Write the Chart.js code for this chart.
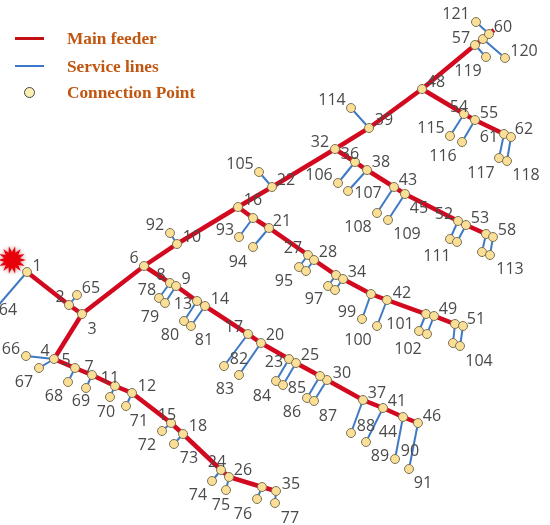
<!DOCTYPE html>
<html lang="en">
<head>
  <meta charset="UTF-8" />
  <title>Feeder network</title>
  <script src="https://cdn.jsdelivr.net/npm/chart.js"></script>
  <style>
    body { margin: 0; background: #fff; }
    #wrap { position: relative; width: 550px; height: 525px; overflow: hidden; }
    .key { position: absolute; left: 67px; font: bold 17.3px "Liberation Serif", serif; color: #c0560f; white-space: nowrap; line-height: 20px; }
    .swatch { position: absolute; left: 15px; width: 29px; }
    .dot { position: absolute; left: 24px; top: 87px; width: 9px; height: 9px; border-radius: 50%; background: #fdeeb4; border: 1px solid #444; }
  </style>
</head>
<body>
<div id="wrap">
  <canvas id="net" width="550" height="525"></canvas>
  <div class="swatch" style="top:37px;height:3px;background:#c30f16"></div>
  <div class="key" style="top:29px">Main feeder</div>
  <div class="swatch" style="top:65px;height:2px;background:#3b78c9"></div>
  <div class="key" style="top:57px">Service lines</div>
  <div class="dot"></div>
  <div class="key" style="top:83px">Connection Point</div>
</div>

<script>
// nodes. 0 = end of the last feeder span, no marker there
const nodeIds = [1,2,3,4,5,6,7,8,9,10,11,12,13,14,15,16,17,18,19,20,21,22,23,24,25,26,27,28,29,30,
  31,32,33,34,35,36,37,38,39,40,41,42,43,44,45,46,47,48,49,50,51,52,53,54,55,56,57,58,59,60,61,62,0,
  64,65,66,67,68,69,70,71,72,73,74,75,76,77,78,79,80,81,82,83,84,85,86,87,88,89,90,91,92,93,94,95,96,97,98,99,100,
  101,102,103,104,105,106,107,108,109,110,111,112,113,114,115,116,117,118,119,120,121];
const nodeX = [27,69,82,54,75,144,92,170,176,177,115,132,197,205,171,238,248,183,253,261,269,272,289,221,296,229,308,314,262,327,
  320,335,336,343,276,355,363,367,369,371,383,387,394,403,405,418,426,422,434,455,463,458,466,464,475,486,475,493,483,489,504,511,494,
  -4,77,26,39,68,86,110,126,162,174,212,226,257,275,159,165,184,191,224,239,276,283,307,314,351,366,395,409,170,239,253,299,306,328,335,362,377,
  419,427,453,460,259,338,348,377,388,450,457,482,490,351,450,462,499,507,486,505,476];
const nodeY = [272,305,314,359,368,266,375,283,286,244,386,393,301,306,423,207,334,434,218,343,228,187,359,470,363,477,255,260,487,380,
  376,149,275,279,491,162,400,170,128,294,408,300,187,417,194,423,314,89,316,324,326,221,225,114,120,234,45,237,39,34,134,137,30,
  308,295,356,368,382,388,397,406,431,444,481,490,499,503,298,303,321,326,366,375,381,385,398,401,433,442,459,469,233,237,247,267,271,286,290,319,326,
  331,334,343,346,172,183,191,213,220,239,242,252,255,108,136,142,158,161,57,58,22];

// feeder runs, by node id
const feederRuns = [
  [1,2,3,6,10,16,22,32,39,48,57,59,60,0],
  [3,4,5,7,11,12,15,18,24,26,29,35],
  [6,8,9,13,14,17,20,23,25,31,30,37,41,44,46],
  [16,19,21,27,28,33,34,40,42,47,49,50,51],
  [32,36,38,43,45,52,53,56,58],
  [48,54,55,61,62]
];

// service line: child id and the feeder node it hangs off
const serviceFrom = [64,65,66,67,68,69,70,71,72,73,74,75,76,77,78,79,80,81,82,83,84,85,86,87,88,89,90,91,92,93,94,95,96,97,98,99,100,
  101,102,103,104,105,106,107,108,109,110,111,112,113,114,115,116,117,118,119,120,121];
const serviceTo = [1,2,4,4,5,7,11,12,15,18,24,26,29,35,8,9,13,14,17,20,23,25,31,30,37,41,44,46,10,19,21,27,28,33,34,40,42,
  47,49,50,51,22,36,38,43,45,52,53,56,58,39,54,55,61,62,57,59,60];

// tick-like number labels with where they sit in the picture
const labelText = ['1','2','3','4','5','6','7','8','9','10','11','12','13','14','15','16','17','18','20','21','22','23','24','25','26','27','28','30',
  '32','34','35','36','37','38','39','41','42','43','44','45','46','48','49','51','52','53','54','55','57','58','60','61','62','64','65','66','67','68','69','70',
  '71','72','73','74','75','76','77','78','79','80','81','82','83','84','85','86','87','88','89','90','91','92','93','94','95','97','99','100',
  '101','102','104','105','106','107','108','109','111','113','114','115','116','117','118','119','120','121'];
const labelX = [37,60,92,45,66,134,89,161,186,192,110,147,183,220,167,253,234,198,275,282,286,274,217,310,243,293,328,342,
  320,357,291,350,377,381,384,397,402,408,388,419,432,436,448,476,444,480,459,489,461,507,503,489,524,8,91,11,24,54,81,106,
  139,147,189,198,221,243,290,147,150,170,204,239,225,262,297,292,328,366,380,410,423,155,225,238,284,314,347,358,
  400,408,479,240,319,368,358,407,437,510,332,431,443,481,526,468,524,456];
const labelY = [266,297,329,351,360,258,367,275,279,237,378,386,304,299,415,200,327,426,335,221,180,362,462,355,470,248,252,373,
  142,272,484,154,393,162,120,401,293,180,432,208,416,82,309,319,214,218,107,113,38,230,27,137,129,310,288,349,382,396,401,412,
  421,445,458,495,505,514,518,290,317,335,340,359,389,396,388,412,416,426,456,451,483,225,230,262,281,299,312,340,
  324,349,361,164,175,193,227,234,256,269,100,128,156,173,175,71,51,14];

const sourceX = [12];
const sourceY = [260];

const pos = id => { const i = nodeIds.indexOf(id); return { x: nodeX[i], y: nodeY[i] }; };

// red burst for the source point
function makeBurst() {
  const c = document.createElement('canvas');
  c.width = c.height = 36;
  const g = c.getContext('2d');
  g.translate(18, 18);
  g.shadowColor = 'rgba(120,0,0,0.45)';
  g.shadowBlur = 4;
  g.fillStyle = '#e8000b';
  g.beginPath();
  for (let i = 0; i < 28; i++) {
    const r = i % 2 ? 8 : 14;
    const a = i * Math.PI / 14;
    g.lineTo(Math.cos(a) * r, Math.sin(a) * r);
  }
  g.closePath();
  g.fill();
  return c;
}

const datasets = [];

serviceFrom.forEach((id, i) => {
  datasets.push({
    data: [pos(id), pos(serviceTo[i])],
    showLine: true, borderColor: '#3f79c4', borderWidth: 2, pointRadius: 0, order: 4
  });
});

feederRuns.forEach(run => {
  datasets.push({
    data: run.map(pos),
    showLine: true, borderColor: '#d2091f', borderWidth: 4.5, pointRadius: 0, order: 3
  });
});

datasets.push({
  data: nodeIds.filter(id => id !== 0).map(pos),
  pointRadius: 4.5, pointBackgroundColor: '#fbdf96', pointBorderColor: '#7a7458', pointBorderWidth: 1, order: 2
});

datasets.push({
  data: sourceX.map((x, i) => ({ x, y: sourceY[i] })),
  pointStyle: makeBurst(), order: 1
});

const numberLabels = {
  id: 'numberLabels',
  afterDatasetsDraw(chart) {
    const { ctx, scales } = chart;
    ctx.save();
    ctx.font = '16px "Open Sans"';
    ctx.fillStyle = '#4a4a4a';
    ctx.textAlign = 'center';
    ctx.textBaseline = 'middle';
    labelText.forEach((t, i) => {
      ctx.fillText(t, scales.x.getPixelForValue(labelX[i]), scales.y.getPixelForValue(labelY[i]));
    });
    ctx.restore();
  }
};

new Chart(document.getElementById('net'), {
  type: 'scatter',
  data: { datasets },
  plugins: [numberLabels],
  options: {
    responsive: false,
    animation: false,
    layout: { padding: 0, autoPadding: false },
    plugins: { legend: { display: false }, tooltip: { enabled: false } },
    scales: {
      x: { type: 'linear', min: 0, max: 550, display: false },
      y: { type: 'linear', min: 0, max: 525, reverse: true, display: false }
    }
  }
});
</script>
</body>
</html>
